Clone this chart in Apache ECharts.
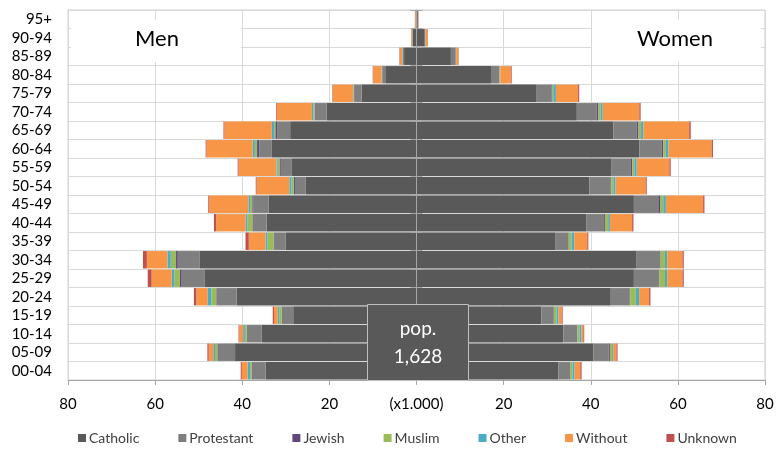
<!DOCTYPE html>
<html>
<head>
<meta charset="utf-8">
<script src="https://cdn.jsdelivr.net/npm/echarts@6/dist/echarts.min.js"></script>
<style>
html,body{margin:0;padding:0;background:#fff;}
#chart{width:777px;height:454px;}
</style>
</head>
<body>
<div id="chart"></div>
<script>
// Age groups, bottom to top
var ages = ['00-04','05-09','10-14','15-19','20-24','25-29','30-34','35-39','40-44','45-49','50-54','55-59','60-64','65-69','70-74','75-79','80-84','85-89','90-94','95+'];
var religions = ['Catholic','Protestant','Jewish','Muslim','Other','Without','Unknown'];
var colors = ['#595959','#7f7f7f','#5f497a','#9bbb59','#4bacc6','#f79646','#c0504d'];

// Men (x1.000)
var menCatholic   = [34.6,41.65,35.5,28.3,41.3,48.7,49.85,30.0,34.4,33.9,25.4,28.6,33.2,29.0,20.6,12.6,7.0,2.85,0.8,0.2];
var menProtestant = [3.0,4.05,3.45,2.6,4.6,5.2,4.95,2.7,3.2,3.5,2.5,2.55,2.9,3.0,2.7,1.7,0.85,0.3,0.15,0.05];
var menJewish     = [0.2,0.05,0.05,0.05,0.1,0.4,0.4,0.1,0.1,0.3,0.3,0.3,0.5,0.4,0.1,0.05,0.05,0.02,0.01,0];
var menMuslim     = [0.4,0.5,0.4,0.55,1.1,1.3,1.2,1.4,1.1,0.5,0.5,0.4,0.5,0.3,0.3,0.1,0.05,0.02,0.01,0];
var menOther      = [0.55,0.4,0.4,0.35,0.8,0.6,0.75,0.45,0.4,0.4,0.5,0.3,0.5,0.5,0.3,0.1,0.1,0.1,0.02,0.01];
var menWithout    = [1.35,1.05,0.9,0.85,2.65,4.6,4.75,3.85,6.8,9.0,7.5,8.7,10.6,10.9,8.0,4.7,1.9,0.55,0.2,0.1];
var menUnknown    = [0.25,0.3,0.15,0.3,0.55,0.9,0.9,0.75,0.5,0.2,0.2,0.2,0.2,0.2,0.2,0.1,0.1,0.1,0.05,0.02];

// Women (x1.000)
var womenCatholic   = [32.55,40.6,33.7,28.7,44.6,49.9,50.55,31.95,39.05,49.9,39.7,44.8,51.15,45.2,36.8,27.6,17.1,7.9,1.9,0.3];
var womenProtestant = [2.7,3.5,3.2,2.8,4.35,5.75,5.4,2.9,3.85,5.6,4.9,4.4,5.15,5.35,4.55,3.4,1.9,1.1,0.15,0.05];
var womenJewish     = [0.1,0.3,0.05,0.05,0.1,0.1,0.1,0.1,0.35,0.4,0.1,0.35,0.35,0.4,0.4,0.1,0.05,0.02,0.01,0];
var womenMuslim     = [0.45,0.5,0.45,0.6,1.3,1.3,1.0,0.65,0.75,0.75,0.5,0.45,0.6,0.6,0.55,0.3,0.1,0.03,0.01,0];
var womenOther      = [0.5,0.25,0.45,0.45,0.75,0.5,0.5,0.6,0.4,0.6,0.5,0.55,0.6,0.55,0.45,0.6,0.1,0.05,0.02,0.01];
var womenWithout    = [1.3,0.75,0.45,0.75,2.3,3.5,3.5,3.0,5.1,8.55,6.9,7.5,9.9,10.5,8.4,5.1,2.4,0.55,0.5,0.1];
var womenUnknown    = [0.3,0.25,0.2,0.2,0.3,0.3,0.3,0.25,0.3,0.3,0.25,0.3,0.3,0.35,0.3,0.25,0.2,0.05,0.05,0.05];

var xTicks = { min: -80, max: 80, interval: 20, centerLabel: '(x1.000)' };
var totalPop = '1,628';

var men = [menCatholic, menProtestant, menJewish, menMuslim, menOther, menWithout, menUnknown];
var women = [womenCatholic, womenProtestant, womenJewish, womenMuslim, womenOther, womenWithout, womenUnknown];

var FONT = 'Lato, "DejaVu Sans", sans-serif';
var series = [];
religions.forEach(function (r, i) {
  series.push({
    name: r, type: 'bar', stack: 'men', yAxisIndex: 0,
    barCategoryGap: '6%', barGap: '-100%',
    itemStyle: { color: colors[i] },
    data: men[i].map(function (v) { return -v; })
  });
});
religions.forEach(function (r, i) {
  series.push({
    name: r, type: 'bar', stack: 'women', yAxisIndex: 0,
    barCategoryGap: '6%', barGap: '-100%',
    itemStyle: { color: colors[i] },
    data: women[i].slice()
  });
});

var chart = echarts.init(document.getElementById('chart'), null, { renderer: 'canvas' });
chart.setOption({
  animation: false,
  backgroundColor: '#ffffff',
  grid: { left: 68, right: 12, top: 10, bottom: 74, show: true, borderColor: '#d0d0d0', borderWidth: 1, containLabel: false },
  legend: {
    data: religions, bottom: 4, left: 73,
    icon: 'rect', itemWidth: 8, itemHeight: 8, itemGap: 39,
    textStyle: { fontFamily: FONT, fontSize: 14, color: '#404040', padding: [0, 0, 0, -2] }
  },
  xAxis: {
    type: 'value', min: xTicks.min, max: xTicks.max, interval: xTicks.interval,
    axisLine: { show: true, onZero: false, lineStyle: { color: '#a6a6a6' } },
    axisTick: { show: true, length: 5, lineStyle: { color: '#a6a6a6' } },
    splitLine: { show: true, lineStyle: { color: '#d9d9d9' } },
    axisLabel: {
      fontFamily: FONT, fontSize: 15, color: '#000', margin: 17,
      formatter: function (v) { return v === 0 ? xTicks.centerLabel : String(Math.abs(v)); }
    }
  },
  yAxis: [
    {
      type: 'category', data: ages, position: 'left',
      axisLine: { show: false, onZero: false },
      axisTick: { show: false },
      splitLine: { show: true, interval: 0, lineStyle: { color: '#d9d9d9' } },
      axisLabel: { interval: 0, fontFamily: FONT, fontSize: 15, color: '#000', margin: 16 }
    },
    {
      type: 'category', data: ages, position: 'left',
      axisLine: { show: true, onZero: true, onZeroAxisIndex: 0, lineStyle: { color: '#a6a6a6' } },
      axisTick: { show: true, interval: 0, inside: true, length: 6, lineStyle: { color: '#a6a6a6' } },
      axisLabel: { show: false }, splitLine: { show: false }, z: 10
    },
    {
      type: 'category', data: ages, position: 'left',
      axisLine: { show: false, onZero: true, onZeroAxisIndex: 0 },
      axisTick: { show: true, interval: 0, inside: false, length: 6, lineStyle: { color: '#a6a6a6' } },
      axisLabel: { show: false }, splitLine: { show: false }, z: 10
    }
  ],
  graphic: [
    { type: 'rect', z: 50, shape: { x: 71, y: 20, width: 170, height: 42 }, style: { fill: '#ffffff' } },
    { type: 'text', z: 51, x: 157, y: 39, style: { text: 'Men', font: '22px ' + FONT, fill: '#000', textAlign: 'center', textVerticalAlign: 'middle' } },
    { type: 'rect', z: 50, shape: { x: 592, y: 20, width: 169, height: 42 }, style: { fill: '#ffffff' } },
    { type: 'text', z: 51, x: 675, y: 39, style: { text: 'Women', font: '22px ' + FONT, fill: '#000', textAlign: 'center', textVerticalAlign: 'middle' } },
    { type: 'rect', z: 50, shape: { x: 367.5, y: 304.5, width: 101, height: 76 }, style: { fill: '#595959', stroke: '#bfbfbf', lineWidth: 1 } },
    { type: 'text', z: 51, x: 418, y: 329, style: { text: 'pop.', font: '19px ' + FONT, fill: '#ffffff', textAlign: 'center', textVerticalAlign: 'middle' } },
    { type: 'text', z: 51, x: 418, y: 357, style: { text: totalPop, font: '19px ' + FONT, fill: '#ffffff', textAlign: 'center', textVerticalAlign: 'middle' } }
  ],
  series: series
});
</script>
</body>
</html>
